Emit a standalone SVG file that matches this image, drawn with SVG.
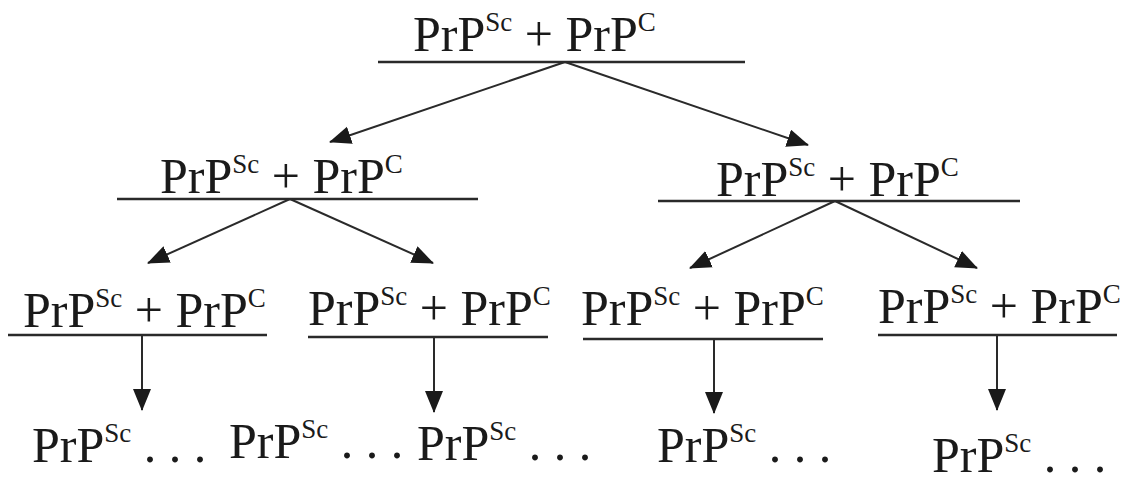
<svg xmlns="http://www.w3.org/2000/svg" width="1137" height="481" viewBox="0 0 1137 481">
<style>
text{font-family:"Liberation Serif","Times New Roman",serif;font-size:50px;fill:#1a1a1a}
.sup{font-size:27px}
.bar{stroke:#2a2a2a;stroke-width:2.5}
.arr{stroke:#2a2a2a;stroke-width:2;fill:none;marker-end:url(#ah)}
</style>
<defs>
<marker id="ah" markerUnits="userSpaceOnUse" markerWidth="22" markerHeight="20" refX="21" refY="9" orient="auto">
<path d="M0,0 L22,9 L0,18 z" fill="#1a1a1a"/>
</marker>
</defs>
<rect width="1137" height="481" fill="#fff"/>
<g id="n1">
<text x="413" y="51">PrP<tspan class="sup" dy="-20">Sc</tspan><tspan dy="20"> + PrP</tspan><tspan class="sup" dy="-20">C</tspan></text>
<line class="bar" x1="378" y1="62" x2="745" y2="62"/>
</g>
<g id="n2">
<text x="160" y="193">PrP<tspan class="sup" dy="-20">Sc</tspan><tspan dy="20"> + PrP</tspan><tspan class="sup" dy="-20">C</tspan></text>
<line class="bar" x1="117" y1="199" x2="478" y2="199"/>
</g>
<g id="n3">
<text x="716" y="196">PrP<tspan class="sup" dy="-20">Sc</tspan><tspan dy="20"> + PrP</tspan><tspan class="sup" dy="-20">C</tspan></text>
<line class="bar" x1="658" y1="201" x2="1020" y2="201"/>
</g>
<g id="n4">
<text x="23" y="327">PrP<tspan class="sup" dy="-20">Sc</tspan><tspan dy="20"> + PrP</tspan><tspan class="sup" dy="-20">C</tspan></text>
<line class="bar" x1="8" y1="335" x2="267" y2="335"/>
</g>
<g id="n5">
<text x="308" y="325">PrP<tspan class="sup" dy="-20">Sc</tspan><tspan dy="20"> + PrP</tspan><tspan class="sup" dy="-20">C</tspan></text>
<line class="bar" x1="308" y1="337" x2="548" y2="337"/>
</g>
<g id="n6">
<text x="581" y="325">PrP<tspan class="sup" dy="-20">Sc</tspan><tspan dy="20"> + PrP</tspan><tspan class="sup" dy="-20">C</tspan></text>
<line class="bar" x1="583" y1="339" x2="823" y2="339"/>
</g>
<g id="n7">
<text x="878" y="323">PrP<tspan class="sup" dy="-20">Sc</tspan><tspan dy="20"> + PrP</tspan><tspan class="sup" dy="-20">C</tspan></text>
<line class="bar" x1="878" y1="335" x2="1117" y2="335"/>
</g>
<g id="b1"><text x="32" y="462">PrP<tspan class="sup" dy="-20">Sc</tspan><tspan dy="20"> . . .</tspan></text></g>
<g id="b2"><text x="229" y="458">PrP<tspan class="sup" dy="-20">Sc</tspan><tspan dy="20"> . . .</tspan></text></g>
<g id="b3"><text x="417" y="460">PrP<tspan class="sup" dy="-20">Sc</tspan><tspan dy="20"> . . .</tspan></text></g>
<g id="b4"><text x="657" y="462">PrP<tspan class="sup" dy="-20">Sc</tspan><tspan dy="20"> . . .</tspan></text></g>
<g id="b5"><text x="932" y="472">PrP<tspan class="sup" dy="-20">Sc</tspan><tspan dy="20"> . . .</tspan></text></g>
<g id="connectors">
<line class="arr" x1="565" y1="62" x2="330" y2="142"/>
<line class="arr" x1="565" y1="62" x2="808" y2="145"/>
<line class="arr" x1="290" y1="199" x2="148" y2="263"/>
<line class="arr" x1="290" y1="199" x2="433" y2="263"/>
<line class="arr" x1="835" y1="201" x2="690" y2="268"/>
<line class="arr" x1="835" y1="201" x2="977" y2="268"/>
<line class="arr" x1="142" y1="335" x2="142" y2="410"/>
<line class="arr" x1="434" y1="337" x2="434" y2="412"/>
<line class="arr" x1="714" y1="339" x2="714" y2="413"/>
<line class="arr" x1="997" y1="335" x2="997" y2="410"/>
</g>
</svg>
